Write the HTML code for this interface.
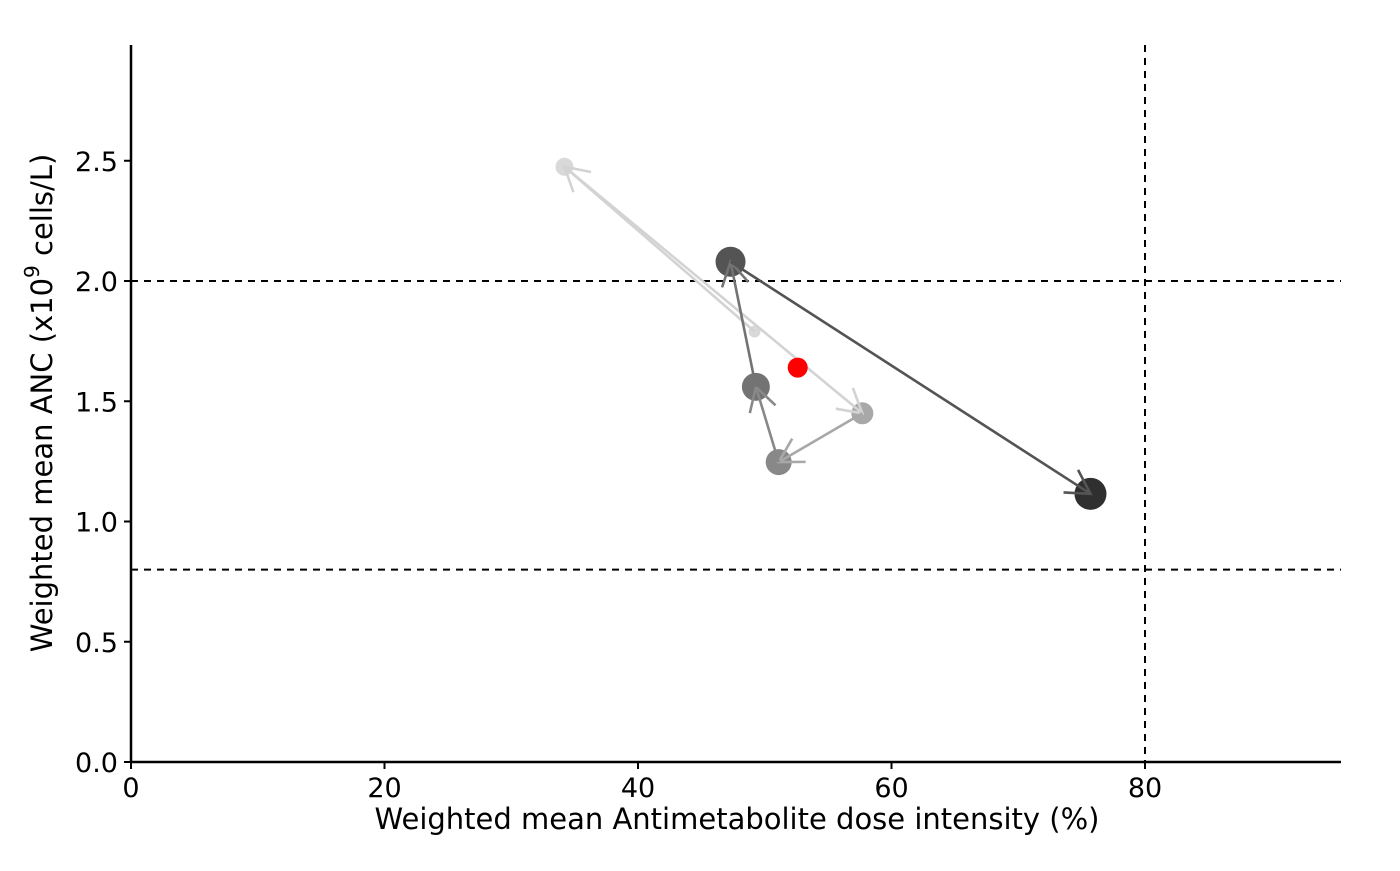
<!DOCTYPE html>
<html><head><meta charset="utf-8"><style>
body{margin:0;background:#fff;}
svg text{font-family:"DejaVu Sans","Liberation Sans",sans-serif;}
</style></head><body>
<svg id="chart" width="1400" height="866" viewBox="0 0 1400 866" xmlns="http://www.w3.org/2000/svg">
<g id="grid"></g>
<g id="axes"></g>
<g id="marks"></g>
<text x="737" y="829" font-size="29" text-anchor="middle">Weighted mean Antimetabolite dose intensity (%)</text>
<text transform="translate(52,403) rotate(-90)" font-size="29" text-anchor="middle">Weighted mean ANC (x10<tspan dy="-13" font-size="20">9</tspan><tspan dy="13"> cells/L)</tspan></text>
</svg>
<script>
const xs = [49.2, 34.2, 57.7, 51.1, 49.3, 47.3, 75.7];
const ys = [1.79, 2.475, 1.45, 1.247, 1.56, 2.08, 1.115];
const pointColors = ['#d9d9d9','#d9d9d9','#a8a8a8','#888888','#737373','#545454','#2f2f2f'];
const pointRadii = [6, 9, 11, 13, 14, 15, 16];
const refX = [52.6];
const refY = [1.64];
const xTicks = [0, 20, 40, 60, 80];
const yTicks = [0.0, 0.5, 1.0, 1.5, 2.0, 2.5];
const hLines = [2.0, 0.8];
const vLines = [80];

const X = v => 131 + v * (1145 - 131) / 80;
const Y = v => 762 - v * (762 - 281) / 2.0;
const NS = 'http://www.w3.org/2000/svg';
function mk(tag, attrs, parent){const e=document.createElementNS(NS,tag);for(const k in attrs)e.setAttribute(k,attrs[k]);parent.appendChild(e);return e;}
const grid=document.getElementById('grid'), axes=document.getElementById('axes'), marks=document.getElementById('marks');

hLines.forEach(v=>{const l=mk('line',{x1:131,x2:1341,y1:Y(v),y2:Y(v),stroke:'#000','stroke-width':2,'stroke-dasharray':'7,6'},grid);

});
vLines.forEach(v=>{const l=mk('line',{x1:X(v),x2:X(v),y1:45,y2:762,stroke:'#000','stroke-width':2,'stroke-dasharray':'7,6'},grid);

});

const xa=mk('line',{x1:130,x2:1341,y1:762,y2:762,stroke:'#000','stroke-width':2.5},axes);


const ya=mk('line',{x1:131,x2:131,y1:45,y2:763,stroke:'#000','stroke-width':2.5},axes);


xTicks.forEach(t=>{mk('line',{x1:X(t),x2:X(t),y1:762,y2:769,stroke:'#000','stroke-width':2},axes);
const tx=mk('text',{x:X(t),y:797,'font-size':27,'text-anchor':'middle'},axes);tx.textContent=t;

});
yTicks.forEach(t=>{mk('line',{x1:124,x2:131,y1:Y(t),y2:Y(t),stroke:'#000','stroke-width':2},axes);
const tx=mk('text',{x:118,y:Y(t)+10,'font-size':27,'text-anchor':'end'},axes);tx.textContent=t.toFixed(1);

});

for(let i=0;i<xs.length;i++){
  const c=mk('circle',{cx:X(xs[i]),cy:Y(ys[i]),r:pointRadii[i],fill:pointColors[i]},marks);
  
  
}
for(let i=0;i<xs.length-1;i++){
  const x1=X(xs[i]),y1=Y(ys[i]),x2=X(xs[i+1]),y2=Y(ys[i+1]);
  const col=i<2?'#d3d3d3':pointColors[i];
  const g=mk('g',{stroke:col,'stroke-width':2.6,fill:'none'},marks);
  
  
  mk('line',{x1:x1,y1:y1,x2:x2,y2:y2},g);
  const a=Math.atan2(y1-y2,x1-x2),L=27,s=0.52;
  mk('polyline',{points:`${x2+L*Math.cos(a+s)},${y2+L*Math.sin(a+s)} ${x2},${y2} ${x2+L*Math.cos(a-s)},${y2+L*Math.sin(a-s)}`},g);
}
refX.forEach((v,i)=>{const c=mk('circle',{cx:X(v),cy:Y(refY[i]),r:10,fill:'#ff0000'},marks);

});
</script>
</body></html>
